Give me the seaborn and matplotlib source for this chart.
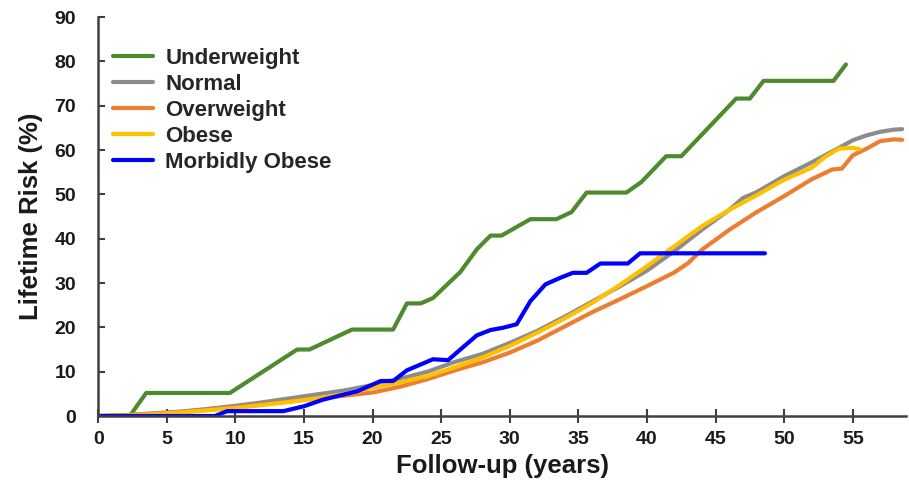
import matplotlib
matplotlib.use("Agg")
import matplotlib.pyplot as plt
import matplotlib.transforms as mtransforms
import seaborn as sns
import pandas as pd

# Cumulative lifetime risk (%) by BMI category over follow-up (years)
underweight_years = [0, 2.3, 3.5, 9.6, 14.5, 15.4, 18.5, 21.5, 22.5, 23.5, 24.4, 26.4, 27.6,
                     28.6, 29.4, 31.5, 33.4, 34.5, 35.6, 38.5, 39.6, 41.4, 42.5, 46.5, 47.5,
                     48.5, 53.6, 54.5]
underweight_risk = [0, 0, 5.2, 5.2, 15.0, 15.0, 19.5, 19.5, 25.4, 25.4, 26.6, 32.5, 37.6,
                    40.7, 40.7, 44.4, 44.4, 46.0, 50.4, 50.4, 52.8, 58.6, 58.6, 71.6, 71.6,
                    75.6, 75.6, 79.3]

normal_years = [0, 2, 4, 6, 8, 10, 12, 14, 16, 18, 20, 22, 24, 26, 28, 30, 32, 34, 36, 38,
                40, 42, 44, 46, 47, 48, 50, 52, 54, 55, 56, 57, 58, 58.6]
normal_risk = [0, 0.2, 0.6, 1.0, 1.6, 2.3, 3.1, 4.0, 4.9, 5.8, 7.0, 8.4, 10.0, 12.2, 14.0,
               16.5, 19.2, 22.4, 25.8, 29.2, 32.8, 37.2, 42.0, 46.5, 49.2, 50.5, 54.1, 57.2,
               60.5, 62.2, 63.3, 64.1, 64.6, 64.7]

overweight_years = [0, 2, 4, 6, 8, 10, 12, 14, 16, 18, 20, 22, 24, 26, 28, 30, 32, 34, 36,
                    38, 40, 42, 43, 44, 46, 48, 50, 52, 53.5, 54.2, 55, 56, 57, 58, 58.6]
overweight_risk = [0, 0.2, 0.5, 0.9, 1.4, 2.0, 2.6, 3.3, 4.0, 4.6, 5.3, 6.6, 8.3, 10.3, 12.1,
                   14.3, 17.0, 20.2, 23.4, 26.3, 29.3, 32.4, 34.5, 37.5, 42.0, 46.0, 49.6,
                   53.4, 55.6, 55.8, 58.8, 60.3, 62.0, 62.4, 62.3]

obese_years = [0, 2, 4, 6, 8, 10, 12, 14, 16, 18, 20, 22, 24, 26, 28, 30, 32, 34, 36, 38,
               40, 42, 44, 46, 48, 50, 52, 53, 54, 55, 55.5]
obese_risk = [0, 0.1, 0.4, 0.8, 1.3, 1.8, 2.5, 3.2, 4.0, 5.0, 6.4, 7.6, 9.0, 11.0, 13.2,
              15.8, 18.8, 22.0, 25.5, 29.5, 33.8, 38.3, 42.8, 46.5, 49.8, 53.3, 56.0, 58.5,
              60.3, 60.5, 60.2]

morbid_years = [0, 8.5, 9.4, 13.5, 15.0, 16.4, 18.9, 20.6, 21.5, 22.5, 24.4, 25.5, 27.6,
                28.6, 29.5, 30.5, 31.5, 32.6, 33.7, 34.6, 35.6, 36.6, 38.6, 39.5, 48.6]
morbid_risk = [0, 0, 1.1, 1.1, 2.2, 3.7, 5.6, 7.9, 7.9, 10.3, 12.8, 12.6, 18.2, 19.4, 19.9,
               20.7, 25.9, 29.7, 31.2, 32.3, 32.3, 34.4, 34.4, 36.7, 36.7]

groups = ["Underweight", "Normal", "Overweight", "Obese", "Morbidly Obese"]
colors = ["#4e8a2e", "#8c8c8c", "#ed7d31", "#ffc000", "#0000ff"]

series = [
    (underweight_years, underweight_risk),
    (normal_years, normal_risk),
    (overweight_years, overweight_risk),
    (obese_years, obese_risk),
    (morbid_years, morbid_risk),
]
frames = []
for name, (yrs, risk) in zip(groups, series):
    frames.append(pd.DataFrame({"year": yrs, "risk": risk, "group": name}))
df = pd.concat(frames, ignore_index=True)

sns.set_theme(style="ticks")
plt.rcParams["font.family"] = ["Liberation Sans", "DejaVu Sans"]

fig = plt.figure(figsize=(9.09, 4.86), dpi=100)
ax = fig.add_axes([0.108, 0.144, 0.889, 0.821])

sns.lineplot(data=df, x="year", y="risk", hue="group", hue_order=groups,
             palette=dict(zip(groups, colors)), estimator=None, sort=False,
             linewidth=3, ax=ax)

ax.set_xlim(0, 58.9)
ax.set_ylim(0, 90)
ax.set_xticks(range(0, 56, 5))
ax.set_yticks(range(0, 91, 10))
ax.set_xlabel("Follow-up (years)", fontsize=18.5, fontweight="bold", color="#1a1a1a", labelpad=4)
ax.set_ylabel("Lifetime Risk (%)", fontsize=18.5, fontweight="bold", color="#1a1a1a", labelpad=8)

for lbl in ax.get_xticklabels() + ax.get_yticklabels():
    lbl.set_fontweight("bold")
    lbl.set_fontsize(14)
    lbl.set_color("#1a1a1a")

# nudge the year labels slightly right of their ticks
shift = mtransforms.ScaledTranslation(5 / 100, 0, fig.dpi_scale_trans)
for lbl in ax.get_xticklabels():
    lbl.set_transform(lbl.get_transform() + shift)

ax.tick_params(axis="x", direction="inout", length=10, width=1.5, color="#404040", pad=6)
ax.tick_params(axis="y", direction="in", length=5, width=1.5, color="#404040", pad=16)

sns.despine(ax=ax)
for side in ("left", "bottom"):
    ax.spines[side].set_linewidth(1.8)
    ax.spines[side].set_color("#404040")

leg = ax.legend(loc="upper left", bbox_to_anchor=(-0.009, 0.978), frameon=False,
                prop={"weight": "bold", "size": 16}, handlelength=1.8,
                handletextpad=0.55, labelspacing=0.22, borderaxespad=0.6)
for line in leg.get_lines():
    line.set_linewidth(3)

fig.savefig("out.png", dpi=100)
